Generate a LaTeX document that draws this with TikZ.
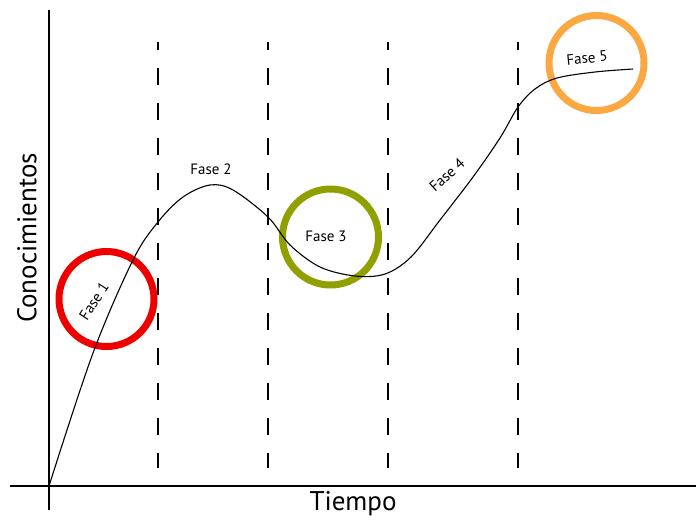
\documentclass[tikz,border=0pt]{standalone}
\usepackage{fontspec}
\setmainfont{PT Sans}
\definecolor{cred}{HTML}{EE0000}
\definecolor{cgreen}{HTML}{8FA000}
\definecolor{corange}{HTML}{FBA843}
\begin{document}
\begin{tikzpicture}[x=1pt,y=-1pt,
  axis/.style={line width=1.6pt},
  divline/.style={line width=1.3pt, dash pattern=on 17pt off 18pt, dash phase=9pt},
  ring/.style={line width=7pt},
  lbl/.style={font=\fontsize{15}{17}\selectfont, inner sep=0pt},
  axlbl/.style={font=\fontsize{27}{30}\selectfont, inner sep=1pt}]
\useasboundingbox (0,0) rectangle (696,520);
% axes
\draw[axis] (49,10) -- (49,510);
\draw[axis] (10,486) -- (696,486);
% dashed dividers
\foreach \x in {158,268,388,518}
  \draw[divline] (\x,42) -- (\x,468);
% circles
\draw[ring, cred] (106.5,299) circle (47.5pt);
\draw[ring, cgreen] (330.5,237) circle (48pt);
\draw[ring, corange] (596.5,63) circle (47.5pt);
% curve
\draw[line width=1.1pt] plot[smooth, tension=0.55] coordinates {
  (49,486) (93,353) (133,260) (158,222) (183,197) (210,185) (233,190)
  (268,217) (290,245) (320,267) (355,276) (385,274) (411,257) (440,220)
  (473,177) (500,138) (518,107) (535,89) (557,78) (595,72) (633,69)};
% labels
\node[lbl, rotate=57] (f1) at (94,301) {Fase 1};
\node[lbl] (f2) at (211,169) {Fase 2};
\node[lbl] (f3) at (326,236) {Fase 3};
\node[lbl, rotate=42] (f4) at (447,175) {Fase 4};
\node[lbl, rotate=6] (f5) at (587,58) {Fase 5};
\node[axlbl, rotate=90] (yl) at (27,238) {Conocimientos};
\node[axlbl] (xl) at (353,504) {Tiempo};
\end{tikzpicture}
\end{document}
